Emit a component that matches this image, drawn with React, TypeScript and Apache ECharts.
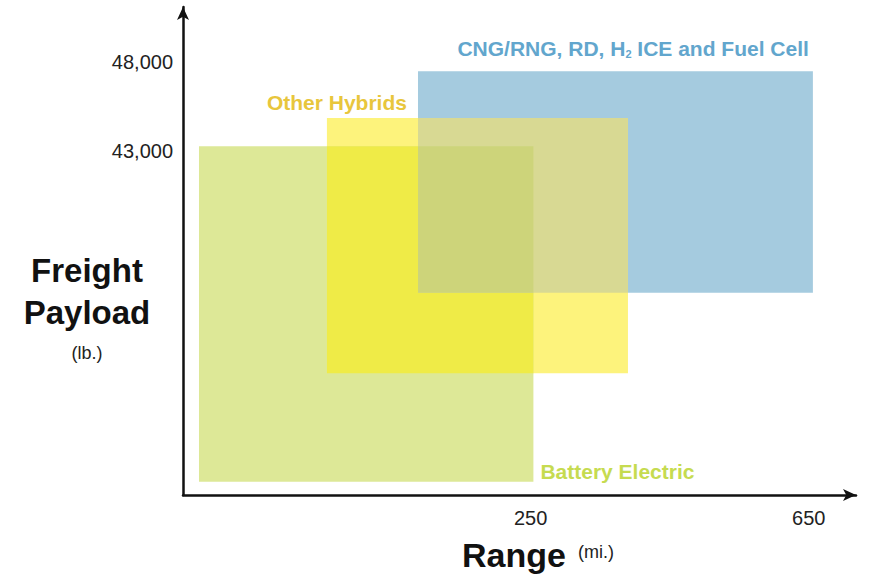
import React, { useEffect, useRef } from "react";
import * as echarts from "echarts";

// ---- data ----
const seriesNames = ["CNG/RNG, RD, H2 ICE and Fuel Cell", "Other Hybrids", "Battery Electric"];
const rangeStart = [88, -43, -227];
const rangeEnd = [656, 390, 254];
const payloadLow = [34950, 30400, 24250];
const payloadHigh = [47500, 44850, 43250];
const xTickValues = [250, 650];
const yTickValues = [43000, 48000];
const xAxisMin = -250;
const xAxisMax = 718;
const yAxisMin = 23500;
const yAxisMax = 51140;

// ---- styles ----
const fillColors = ["#a5cbdf", "#fdf37c", "#dde897"];
const labelColors = ["#62a6cd", "#e8c63c", "#c6db50"];
const overlapYellowGreen = "#efeb47";
const overlapYellowBlue = "#d8d993";
const overlapAll = "#cdd47a";
const FONT = "'Liberation Sans', Arial, Helvetica, sans-serif";

const labelSpecs = [
  { anchorX: "right", anchorY: "top", dx: -4, dy: -23, align: "right" },
  { anchorX: "left", anchorY: "top", dx: 80, dy: -16, align: "right" },
  { anchorX: "right", anchorY: "bottom", dx: 7, dy: -10, align: "left" },
];

type Box = [number, number, number, number];
const boxes: Box[] = seriesNames.map((_, i) => [rangeStart[i], rangeEnd[i], payloadLow[i], payloadHigh[i]]);
function intersect(a: Box, b: Box): Box {
  return [Math.max(a[0], b[0]), Math.min(a[1], b[1]), Math.max(a[2], b[2]), Math.min(a[3], b[3])];
}

function rectFromApi(api: any) {
  const x0 = api.value(0), x1 = api.value(1), y0 = api.value(2), y1 = api.value(3);
  const p0 = api.coord([x0, y1]);
  const p1 = api.coord([x1, y0]);
  return { x: p0[0], y: p0[1], width: p1[0] - p0[0], height: p1[1] - p0[1] };
}

export default function App() {
  const ref = useRef<HTMLDivElement>(null);
  useEffect(() => {
    if (!ref.current) return;
    const chart = echarts.init(ref.current, null, { renderer: "svg" });

    const baseSeries = [0, 1, 2].map((i) => ({
      type: "custom",
      name: seriesNames[i],
      z: 2,
      encode: { x: [0, 1], y: [2, 3] },
      data: [boxes[i]],
      renderItem: (params: any, api: any) => {
        const r = rectFromApi(api);
        const spec = labelSpecs[i];
        const ax = spec.anchorX === "right" ? r.x + r.width : r.x;
        const ay = spec.anchorY === "top" ? r.y : r.y + r.height;
        const textStyle: any =
          i === 0
            ? {
                text: "{a|CNG/RNG, RD, H}{s|2}{a| ICE and Fuel Cell}",
                rich: {
                  a: { fontFamily: FONT, fontWeight: "bold", fontSize: 21, fill: labelColors[i], color: labelColors[i], lineHeight: 24 },
                  s: { fontFamily: FONT, fontWeight: "bold", fontSize: 11, fill: labelColors[i], color: labelColors[i], lineHeight: 24, padding: [12, 0, 0, 0] },
                },
                align: spec.align,
                verticalAlign: "middle",
              }
            : {
                text: seriesNames[i],
                fill: labelColors[i],
                font: `bold 21px ${FONT}`,
                align: spec.align,
                verticalAlign: "middle",
              };
        return {
          type: "group",
          children: [
            { type: "rect", shape: r, style: { fill: fillColors[i] } },
            { type: "text", x: ax + spec.dx, y: ay + spec.dy, style: textStyle },
          ],
        };
      },
    }));

    const overlaps: { box: Box; color: string; z: number }[] = [
      { box: intersect(boxes[1], boxes[2]), color: overlapYellowGreen, z: 3 },
      { box: intersect(boxes[1], boxes[0]), color: overlapYellowBlue, z: 3 },
      { box: intersect(intersect(boxes[0], boxes[1]), boxes[2]), color: overlapAll, z: 4 },
    ];
    const overlapSeries = overlaps.map((o) => ({
      type: "custom",
      z: o.z,
      encode: { x: [0, 1], y: [2, 3] },
      data: [o.box],
      renderItem: (params: any, api: any) => ({
        type: "rect",
        shape: rectFromApi(api),
        style: { fill: o.color },
      }),
    }));

    chart.setOption({
      animation: false,
      backgroundColor: "#ffffff",
      grid: { left: 183, right: 25, top: 7, bottom: 80, containLabel: false },
      xAxis: {
        type: "value",
        min: xAxisMin,
        max: xAxisMax,
        splitLine: { show: false },
        axisTick: { show: false },
        axisLine: {
          show: true,
          onZero: false,
          symbol: ["none", "arrow"],
          symbolSize: [9, 13],
          lineStyle: { color: "#111", width: 2.5 },
        },
        axisLabel: {
          customValues: xTickValues,
          formatter: (v: number) => v.toLocaleString("en-US"),
          color: "#222",
          fontFamily: FONT,
          fontSize: 20,
          margin: 13,
        },
      },
      yAxis: {
        type: "value",
        min: yAxisMin,
        max: yAxisMax,
        splitLine: { show: false },
        axisTick: { show: false },
        axisLine: {
          show: true,
          onZero: false,
          symbol: ["none", "arrow"],
          symbolSize: [9, 13],
          lineStyle: { color: "#111", width: 2.5 },
        },
        axisLabel: {
          customValues: yTickValues,
          formatter: (v: number) => v.toLocaleString("en-US"),
          color: "#222",
          fontFamily: FONT,
          fontSize: 20,
          margin: 10,
        },
      },
      graphic: [
        {
          type: "text",
          x: 87,
          y: 291,
          style: {
            text: "Freight\nPayload",
            font: `bold 33px ${FONT}`,
            lineHeight: 42,
            fill: "#111",
            align: "center",
            verticalAlign: "middle",
          },
        },
        {
          type: "text",
          x: 87,
          y: 353,
          style: { text: "(lb.)", font: `18px ${FONT}`, fill: "#222", align: "center", verticalAlign: "middle" },
        },
        {
          type: "text",
          x: 514,
          y: 555,
          style: { text: "Range", font: `bold 34px ${FONT}`, fill: "#111", align: "center", verticalAlign: "middle" },
        },
        {
          type: "text",
          x: 578,
          y: 552,
          style: { text: "(mi.)", font: `18px ${FONT}`, fill: "#222", align: "left", verticalAlign: "middle" },
        },
      ],
      series: [...baseSeries, ...overlapSeries],
    });
    return () => chart.dispose();
  }, []);
  return <div ref={ref} style={{ position: "fixed", left: 0, top: 0, width: 881, height: 575 }} />;
}
